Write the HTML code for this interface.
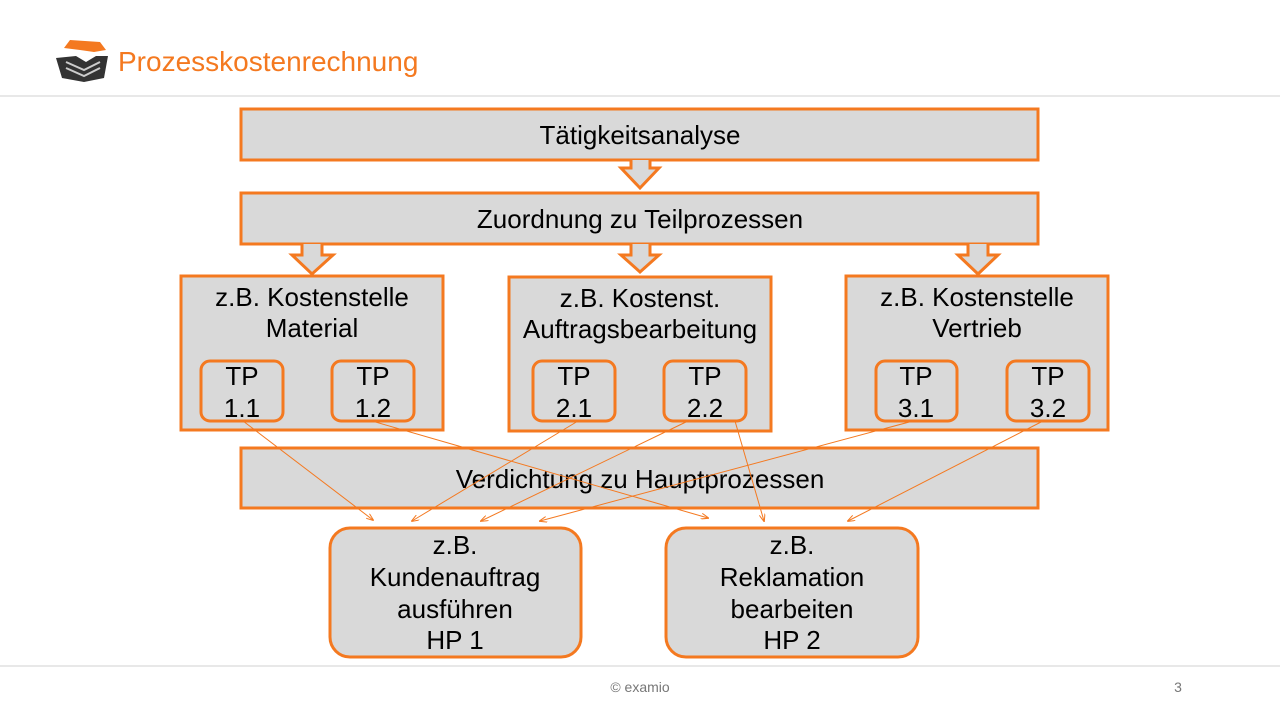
<!DOCTYPE html>
<html><head><meta charset="utf-8"><style>
body{margin:0;width:1280px;height:720px;background:#fff;overflow:hidden;font-family:"Liberation Sans",sans-serif}
</style></head><body>
<svg width="1280" height="720" xmlns="http://www.w3.org/2000/svg" font-family="Liberation Sans, sans-serif">
<defs><marker id="a" markerWidth="8" markerHeight="6" refX="7" refY="3" orient="auto" markerUnits="userSpaceOnUse"><path d="M0,0 L8,3 L0,6" fill="none" stroke="#f47920" stroke-width="1"/></marker></defs>
<path d="M64,48 L70,40 L100,42 L106,50 L94,52 L80,50 Z" fill="#f47920"/>
<path d="M56,58 L76,56 L86,62 L96,56 L108,56 L104,78 L84,82 L62,78 Z" fill="#333"/>
<path d="M66,62 L84,70 L100,62 M66,68 L84,76 L100,68" stroke="#ccc" stroke-width="2" fill="none"/>
<text x="118" y="71" font-size="28" fill="#f47920" font-family="Liberation Sans, DejaVu Sans, sans-serif">Prozesskostenrechnung</text>
<rect x="0" y="95" width="1280" height="2" fill="#e8e8e8"/>
<rect x="0" y="665" width="1280" height="2" fill="#e8e8e8"/>
<text x="640" y="692" font-size="14" fill="#777" text-anchor="middle">© examio</text>
<text x="1178" y="692" font-size="14" fill="#777" text-anchor="middle">3</text>
<g fill="#d9d9d9" stroke="#f47920" stroke-width="3">
<rect x="241" y="109" width="797" height="51"/>
<rect x="241" y="193" width="797" height="51"/>
<path d="M631,160 V168 H621 L640,188 L659,168 H650 V160"/>
<path d="M302,244 V255 H292 L312,274 L333,255 H322 V244"/>
<path d="M631,244 V255 H621 L640,272 L659,255 H650 V244"/>
<path d="M968,244 V255 H958 L978,274 L998,255 H988 V244"/>
<rect x="181" y="276" width="262" height="154"/>
<rect x="509" y="277" width="262" height="154"/>
<rect x="846" y="276" width="262" height="154"/>
<rect x="201" y="361" width="82" height="60" rx="9"/>
<rect x="332" y="361" width="82" height="60" rx="9"/>
<rect x="533" y="361" width="82" height="60" rx="9"/>
<rect x="664" y="361" width="82" height="60" rx="9"/>
<rect x="876" y="361" width="81" height="60" rx="9"/>
<rect x="1007" y="361" width="82" height="60" rx="9"/>
<rect x="241" y="448" width="797" height="60"/>
<rect x="330" y="528" width="251" height="129" rx="20"/>
<rect x="666" y="528" width="252" height="129" rx="20"/>
</g>
<g font-size="26" fill="#000" text-anchor="middle">
<text x="640" y="144">Tätigkeitsanalyse</text>
<text x="640" y="228">Zuordnung zu Teilprozessen</text>
<text x="312" y="306">z.B. Kostenstelle</text><text x="312" y="337">Material</text>
<text x="640" y="307">z.B. Kostenst.</text><text x="640" y="338">Auftragsbearbeitung</text>
<text x="977" y="306">z.B. Kostenstelle</text><text x="977" y="337">Vertrieb</text>
<text x="242" y="385">TP</text><text x="242" y="417">1.1</text>
<text x="373" y="385">TP</text><text x="373" y="417">1.2</text>
<text x="574" y="385">TP</text><text x="574" y="417">2.1</text>
<text x="705" y="385">TP</text><text x="705" y="417">2.2</text>
<text x="916" y="385">TP</text><text x="916" y="417">3.1</text>
<text x="1048" y="385">TP</text><text x="1048" y="417">3.2</text>
<text x="640" y="488">Verdichtung zu Hauptprozessen</text>
<text x="455" y="554">z.B.</text><text x="455" y="586">Kundenauftrag</text><text x="455" y="618">ausführen</text><text x="455" y="649">HP 1</text>
<text x="792" y="554">z.B.</text><text x="792" y="586">Reklamation</text><text x="792" y="618">bearbeiten</text><text x="792" y="649">HP 2</text>
</g>
<g stroke="#f47920" stroke-width="1" marker-end="url(#a)">
<line x1="243" y1="421" x2="373" y2="520"/>
<line x1="372" y1="421" x2="708" y2="518"/>
<line x1="578" y1="421" x2="412" y2="521"/>
<line x1="688" y1="421" x2="481" y2="521"/>
<line x1="735" y1="421" x2="764" y2="521"/>
<line x1="913" y1="421" x2="540" y2="521"/>
<line x1="1043" y1="421" x2="848" y2="521"/>
</g>
</svg>
</body></html>
